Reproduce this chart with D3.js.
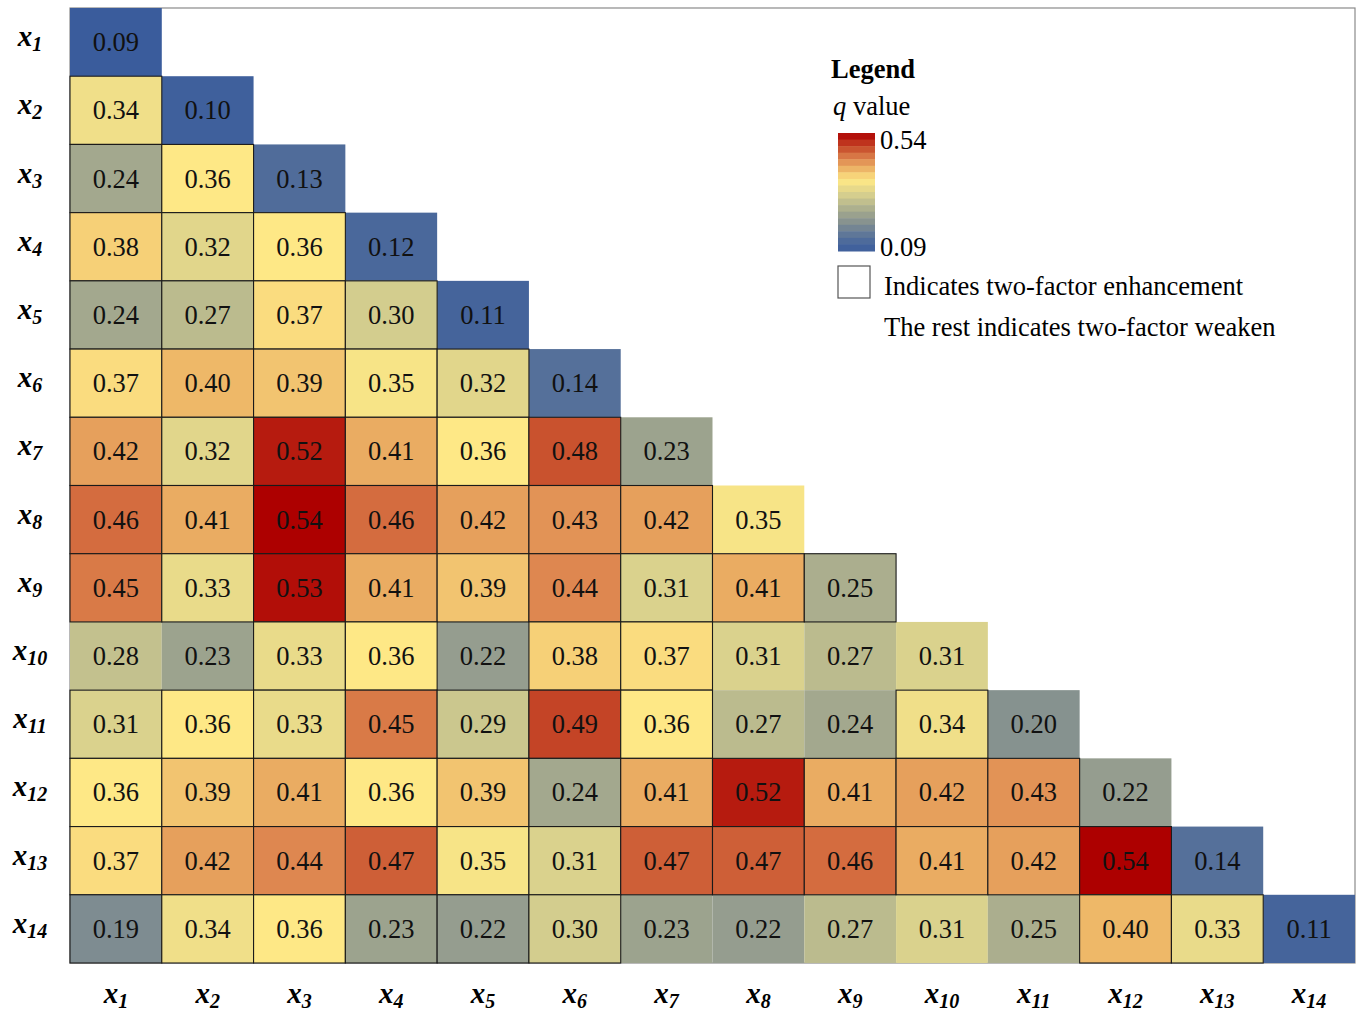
<!DOCTYPE html>
<html>
<head>
<meta charset="utf-8">
<script src="https://cdn.jsdelivr.net/npm/d3@7"></script>
<style>
  body { margin: 0; background: #fff; }
</style>
</head>
<body>
<svg id="heatmap" width="1358" height="1012" font-family="'Liberation Serif', 'Times New Roman', 'DejaVu Serif', serif"></svg>
<script>
// factor names (subscript part of x_i)
const factors = ["1","2","3","4","5","6","7","8","9","10","11","12","13","14"];

// lower triangle q values, one array per row
const qRows = [
  [0.09],
  [0.34, 0.10],
  [0.24, 0.36, 0.13],
  [0.38, 0.32, 0.36, 0.12],
  [0.24, 0.27, 0.37, 0.30, 0.11],
  [0.37, 0.40, 0.39, 0.35, 0.32, 0.14],
  [0.42, 0.32, 0.52, 0.41, 0.36, 0.48, 0.23],
  [0.46, 0.41, 0.54, 0.46, 0.42, 0.43, 0.42, 0.35],
  [0.45, 0.33, 0.53, 0.41, 0.39, 0.44, 0.31, 0.41, 0.25],
  [0.28, 0.23, 0.33, 0.36, 0.22, 0.38, 0.37, 0.31, 0.27, 0.31],
  [0.31, 0.36, 0.33, 0.45, 0.29, 0.49, 0.36, 0.27, 0.24, 0.34, 0.20],
  [0.36, 0.39, 0.41, 0.36, 0.39, 0.24, 0.41, 0.52, 0.41, 0.42, 0.43, 0.22],
  [0.37, 0.42, 0.44, 0.47, 0.35, 0.31, 0.47, 0.47, 0.46, 0.41, 0.42, 0.54, 0.14],
  [0.19, 0.34, 0.36, 0.23, 0.22, 0.30, 0.23, 0.22, 0.27, 0.31, 0.25, 0.40, 0.33, 0.11]
];

// 1 = two-factor enhancement (outlined cell), 0 = weaken
const enhanceRows = [
  [0],
  [1, 0],
  [1, 1, 0],
  [1, 1, 1, 0],
  [1, 1, 1, 1, 0],
  [1, 1, 1, 1, 1, 0],
  [1, 1, 1, 1, 1, 1, 0],
  [1, 1, 1, 1, 1, 1, 1, 0],
  [1, 1, 1, 1, 1, 1, 1, 1, 1],
  [0, 0, 1, 1, 0, 1, 1, 0, 0, 0],
  [1, 1, 1, 1, 1, 1, 1, 0, 0, 1, 0],
  [1, 1, 1, 1, 1, 1, 1, 1, 1, 1, 1, 0],
  [1, 1, 1, 1, 1, 1, 1, 1, 1, 1, 1, 1, 0],
  [1, 1, 1, 1, 1, 1, 0, 0, 0, 0, 0, 1, 1, 0]
];

// colour ramp stops
const colorStops = [0.09, 0.14, 0.20, 0.24, 0.30, 0.36, 0.40, 0.44, 0.48, 0.54];
const colorRange = ["#3a5c9c", "#55709a", "#86928f", "#a3a88e", "#d3cd8e",
                    "#fee886", "#eeb868", "#de8750", "#c9522e", "#ad0000"];
const legendTicks = [0.54, 0.09];

// flatten into cell list
const cells = [];
qRows.forEach((row, i) => {
  row.forEach((v, j) => {
    cells.push({ row: factors[i], col: factors[j], value: v, enhance: enhanceRows[i][j] });
  });
});

const svg = d3.select("#heatmap");
const margin = { top: 8, left: 70, right: 3, bottom: 49 };
const width = 1358 - margin.left - margin.right;
const height = 1012 - margin.top - margin.bottom;

const g = svg.append("g").attr("transform", `translate(${margin.left},${margin.top})`);

const x = d3.scaleBand().domain(factors).range([0, width]);
const y = d3.scaleBand().domain(factors).range([0, height]);
const color = d3.scaleLinear().domain(colorStops).range(colorRange).clamp(true);

// outer frame
g.append("rect")
  .attr("x", 0).attr("y", 0)
  .attr("width", width).attr("height", height)
  .attr("fill", "none")
  .attr("stroke", "#8a8a8a")
  .attr("stroke-width", 1.2);

// weaken cells first, enhanced (outlined) on top
const sorted = cells.slice().sort((a, b) => a.enhance - b.enhance);

g.selectAll(".cell")
  .data(sorted)
  .join("rect")
  .attr("class", "cell")
  .attr("x", (d) => x(d.col))
  .attr("y", (d) => y(d.row))
  .attr("width", x.bandwidth())
  .attr("height", y.bandwidth())
  .attr("fill", (d) => color(d.value))
  .attr("stroke", (d) => (d.enhance ? "#1a1a1a" : "none"))
  .attr("stroke-width", 1.1);

g.selectAll(".cell-label")
  .data(cells)
  .join("text")
  .attr("class", "cell-label")
  .attr("x", (d) => x(d.col) + x.bandwidth() / 2)
  .attr("y", (d) => y(d.row) + y.bandwidth() / 2 + 9)
  .attr("text-anchor", "middle")
  .attr("font-size", 26.5)
  .attr("fill", "#111")
  .text((d) => d.value.toFixed(2));

// axis labels x_i with subscripts
const addLabel = (sel) => {
  sel.append("tspan")
    .attr("font-size", 29)
    .attr("font-weight", "bold")
    .attr("font-style", "italic")
    .text("x");
  sel.append("tspan")
    .attr("font-size", 20)
    .attr("font-weight", "bold")
    .attr("font-style", "italic")
    .attr("dy", 5)
    .text((d) => d);
};

g.selectAll(".ylab")
  .data(factors)
  .join("text")
  .attr("class", "ylab")
  .attr("x", -40)
  .attr("y", (d) => y(d) + y.bandwidth() / 2 + 4)
  .attr("text-anchor", "middle")
  .call(addLabel);

g.selectAll(".xlab")
  .data(factors)
  .join("text")
  .attr("class", "xlab")
  .attr("x", (d) => x(d) + x.bandwidth() / 2)
  .attr("y", height + 40)
  .attr("text-anchor", "middle")
  .call(addLabel);

// legend
const legend = svg.append("g").attr("transform", "translate(831,0)");

legend.append("text")
  .attr("x", 0).attr("y", 78)
  .attr("font-size", 26.5)
  .attr("font-weight", "bold")
  .text("Legend");

const qTitle = legend.append("text").attr("x", 2).attr("y", 115).attr("font-size", 26.5);
qTitle.append("tspan").attr("font-style", "italic").text("q");
qTitle.append("tspan").text(" value");

const barTop = 133, barBottom = 251, barX = 7, barW = 37;
const nBands = 18;
const bandScale = d3.scaleLinear().domain([0, nBands]).range([legendTicks[0], legendTicks[1]]);
const barY = d3.scaleLinear().domain([0, nBands]).range([barTop, barBottom]);

legend.selectAll(".band")
  .data(d3.range(nBands))
  .join("rect")
  .attr("class", "band")
  .attr("x", barX)
  .attr("y", (d) => barY(d))
  .attr("width", barW)
  .attr("height", barY(1) - barY(0) + 0.5)
  .attr("fill", (d) => color(bandScale(d + 0.5)));

legend.append("text")
  .attr("x", barX + barW + 5).attr("y", barTop + 16)
  .attr("font-size", 26.5)
  .text(legendTicks[0].toFixed(2));

legend.append("text")
  .attr("x", barX + barW + 5).attr("y", barBottom + 5)
  .attr("font-size", 26.5)
  .text(legendTicks[1].toFixed(2));

legend.append("rect")
  .attr("x", barX).attr("y", 266)
  .attr("width", 32).attr("height", 32)
  .attr("fill", "#fff")
  .attr("stroke", "#555")
  .attr("stroke-width", 1.2);

legend.append("text")
  .attr("x", 53).attr("y", 295)
  .attr("font-size", 26.5)
  .text("Indicates two-factor enhancement");

legend.append("text")
  .attr("x", 53).attr("y", 336)
  .attr("font-size", 26.5)
  .text("The rest indicates two-factor weaken");
</script>
</body>
</html>
